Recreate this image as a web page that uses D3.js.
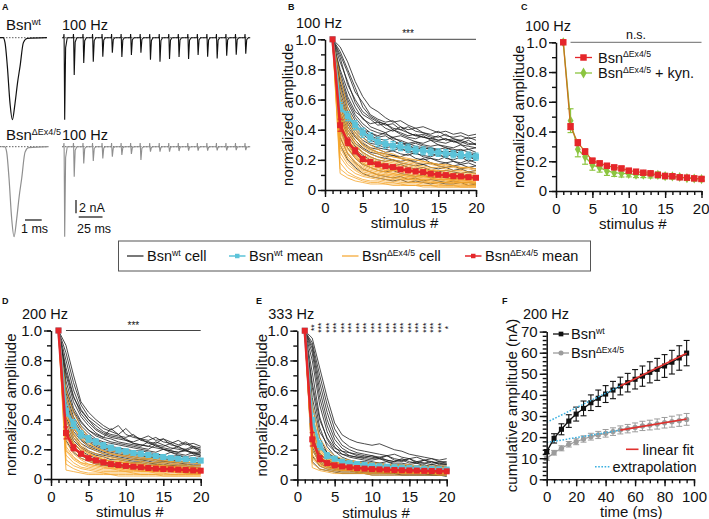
<!DOCTYPE html>
<html>
<head>
<meta charset="utf-8">
<script src="https://cdn.jsdelivr.net/npm/d3@7/dist/d3.min.js"></script>
<style>
  html,body{margin:0;padding:0;background:#fff;}
  svg{display:block;}
</style>
</head>
<body>
<svg id="fig" width="709" height="519" xmlns="http://www.w3.org/2000/svg"></svg>
<script>
// ================= DATA =================
const stimulusNumbers = [1,2,3,4,5,6,7,8,9,10,11,12,13,14,15,16,17,18,19,20];
const stimulusTicks = [0, 5, 10, 15, 20];
const stimulusMinorTicks = [0,1,2,3,4,5,6,7,8,9,10,11,12,13,14,15,16,17,18,19,20];
const amplitudeTicks = [0, 0.2, 0.4, 0.6, 0.8, 1.0];
const amplitudeMinorTicks = [0,0.1,0.2,0.3,0.4,0.5,0.6,0.7,0.8,0.9,1.0];

// ---- Panel A: example EPSCs (single, and 100 Hz trains) ----
const epscTimeMs = [0, 0.18, 0.30, 0.44, 0.60, 0.74, 0.90, 1.05, 1.20, 1.40, 1.62, 2.81];
const epscShape  = [0, 0, 0.06, 0.35, 0.80, 1.00, 0.80, 0.55, 0.35, 0.06, 0.01, 0];
const wtSingleAmpNA = 12.3;
const koSingleAmpNA = 13.5;
const trainStimTimesMs = [0,10,20,30,40,50,60,70,80,90,100,110,120,130,140,150,160,170,180,190];
const wtTrainAmpNA = [12.3,5.6,3.8,3.6,2.85,2.25,2.9,2.6,2.25,3.3,3.6,3.2,2.9,3.2,2.6,2.85,3.1,2.7,2.55,2.4];
const koTrainAmpNA = [13.5,4.5,2.5,2.15,1.75,1.5,1.25,1.1,2.0,0.75,0.75,0.75,0.65,0.6,0.6,0.6,0.55,0.55,0.5,0.5];

// ---- Panel B: 100 Hz, normalized amplitude (cells: stimulus 2..20, x100) ----
const bWtCells = [
 [95,85,72,62,55,52,48,45,46,43,41,42,40,38,39,37,38,36,37],
 [90,78,65,58,50,47,45,46,42,40,41,38,37,39,36,35,36,34,35],
 [88,70,60,52,48,45,44,41,40,42,39,38,36,35,37,34,33,35,33],
 [85,72,58,50,47,43,44,40,38,36,37,35,34,36,33,34,32,30,31],
 [80,66,55,47,44,45,41,39,42,38,36,37,35,33,34,32,33,31,30],
 [78,62,52,48,42,40,38,40,37,35,34,36,33,32,31,33,30,29,28],
 [75,60,50,44,40,38,37,35,36,34,32,31,33,30,29,28,30,27,28],
 [72,58,48,42,38,36,38,34,33,31,32,30,29,30,28,27,26,27,25],
 [70,55,46,40,36,34,33,35,32,30,31,29,28,27,28,26,27,25,24],
 [68,52,44,38,35,33,31,30,32,29,28,27,28,26,25,26,24,23,24],
 [65,50,42,37,33,31,30,29,28,30,27,26,25,27,24,23,24,22,21],
 [62,48,40,35,31,30,28,29,27,26,25,27,24,23,22,24,21,22,20],
 [60,46,38,33,30,28,27,26,28,25,24,23,22,24,21,20,22,19,20],
 [58,44,36,31,28,27,25,26,24,23,25,22,21,20,22,19,18,20,18],
 [55,42,35,30,27,25,24,23,22,24,21,20,21,19,18,19,17,18,16],
 [52,40,33,28,25,24,22,23,21,20,19,21,18,17,18,16,17,15,16],
 [50,38,31,27,24,22,21,20,19,20,18,17,18,16,15,16,14,15,14],
 [48,36,29,25,22,20,19,20,18,17,16,17,15,14,15,13,14,12,13],
 [45,33,27,23,20,18,17,16,17,15,14,15,13,12,13,12,11,12,11],
 [42,30,24,20,18,16,15,14,13,14,12,11,12,10,11,10,9,10,9],
 [40,28,21,17,15,13,12,13,11,10,9,10,8,9,8,7,8,7,7],
 [35,24,18,14,12,10,9,8,9,7,8,6,7,6,5,6,5,5,4],
 [30,20,15,11,9,8,7,6,7,5,6,5,4,5,4,4,5,3,4],
 [55,47,42,40,38,35,36,33,30,31,29,28,27,26,25,26,24,22,23],
 [92,80,68,55,49,46,43,44,40,38,36,35,34,33,34,32,31,33,30]
];
const bKoCells = [
 [75,55,42,35,30,27,25,24,22,21,20,19,18,17,17,16,15,15,14],
 [68,50,40,32,28,25,23,22,21,19,18,18,17,16,15,15,14,14,13],
 [62,45,36,29,26,24,22,20,19,18,17,16,15,15,14,13,13,12,12],
 [58,42,33,27,24,22,20,19,18,17,16,15,14,13,13,12,12,11,11],
 [55,40,31,25,22,20,19,18,17,16,15,14,13,13,12,11,11,10,10],
 [52,38,30,24,21,19,18,17,16,15,14,13,13,12,11,11,10,10,9],
 [50,36,28,22,20,18,17,16,15,14,13,12,12,11,10,10,9,9,8],
 [48,34,27,21,19,17,16,15,14,13,12,12,11,10,10,9,9,8,8],
 [46,33,26,20,18,16,15,14,13,12,12,11,10,10,9,9,8,8,7],
 [44,31,24,19,17,15,14,13,13,12,11,10,10,9,9,8,8,7,7],
 [42,30,23,18,16,15,13,13,12,11,10,10,9,9,8,8,7,7,7],
 [40,28,22,17,15,14,13,12,11,10,10,9,9,8,8,7,7,6,6],
 [38,27,21,16,14,13,12,11,10,10,9,9,8,8,7,7,6,6,6],
 [36,25,19,15,13,12,11,10,10,9,8,8,8,7,7,6,6,6,5],
 [34,24,18,14,12,11,10,10,9,8,8,7,7,7,6,6,5,5,5],
 [32,22,17,13,12,10,10,9,8,8,7,7,6,6,6,5,5,5,4],
 [30,21,16,12,11,10,9,8,8,7,7,6,6,5,5,5,5,4,4],
 [28,19,14,11,10,9,8,8,7,7,6,6,5,5,5,4,4,4,4],
 [25,17,13,10,9,8,7,7,6,6,5,5,5,4,4,4,4,3,3],
 [22,15,11,9,8,7,6,6,5,5,5,4,4,4,3,3,3,3,3],
 [18,12,9,7,6,6,5,5,4,4,4,3,3,3,3,3,2,2,2],
 [14,10,8,6,5,5,4,4,4,3,3,3,3,2,2,2,2,2,2],
 [11,8,6,5,4,4,4,3,3,3,3,2,2,2,2,2,2,2,2],
 [60,48,38,30,27,25,24,22,21,20,20,19,18,17,16,16,15,15,14],
 [45,30,22,18,15,13,12,11,10,9,9,8,8,7,7,6,6,6,5]
];
const bWtMean = [1.0,0.55,0.49,0.43,0.38,0.35,0.32,0.305,0.294,0.288,0.277,0.265,0.26,0.254,0.248,0.243,0.237,0.232,0.228,0.221];
const bWtSem  = [0,0.03,0.03,0.03,0.03,0.03,0.03,0.028,0.028,0.027,0.027,0.026,0.026,0.025,0.025,0.025,0.024,0.024,0.024,0.024];
const bKoMean = [1.0,0.43,0.32,0.26,0.205,0.185,0.17,0.158,0.152,0.137,0.13,0.123,0.119,0.108,0.101,0.099,0.092,0.09,0.085,0.081];
const bKoSem  = [0,0.04,0.025,0.02,0.015,0.015,0.013,0.012,0.012,0.011,0.01,0.01,0.01,0.01,0.01,0.01,0.01,0.01,0.01,0.01];

// ---- Panel C: 100 Hz, KO vs KO + kynurenic acid ----
const cKoMean  = [1.0,0.433,0.325,0.265,0.204,0.186,0.17,0.159,0.152,0.137,0.13,0.123,0.119,0.108,0.101,0.099,0.092,0.09,0.085,0.081];
const cKoSem   = [0,0.02,0.02,0.018,0.015,0.014,0.013,0.012,0.012,0.011,0.011,0.01,0.01,0.01,0.01,0.01,0.01,0.01,0.01,0.01];
const cKynMean = [1.0,0.473,0.28,0.23,0.175,0.157,0.135,0.123,0.119,0.115,0.11,0.11,0.108,0.108,0.1,0.098,0.094,0.086,0.084,0.08];
const cKynSem  = [0,0.08,0.05,0.05,0.035,0.03,0.03,0.025,0.025,0.02,0.02,0.02,0.02,0.02,0.018,0.016,0.015,0.015,0.015,0.015];

// ---- Panel D: 200 Hz ----
const dWtCells = [
 [90,70,52,45,40,36,33,36,30,28,27,29,26,27,25,23,25,22,21],
 [85,65,50,42,38,34,32,30,34,29,27,26,28,25,24,26,23,24,22],
 [80,60,47,40,36,32,30,29,28,30,26,25,24,27,23,22,24,21,20],
 [75,56,44,38,33,30,28,27,26,25,27,24,23,22,24,21,20,22,19],
 [70,52,42,36,31,28,27,25,24,23,22,25,22,21,20,22,19,18,18],
 [66,48,39,33,29,27,25,24,23,22,21,20,23,20,19,18,20,17,17],
 [62,45,36,31,27,25,24,23,22,21,20,19,18,20,18,17,16,18,16],
 [58,42,34,29,26,24,22,21,20,19,19,18,17,16,18,16,15,16,15],
 [55,40,32,28,25,22,21,20,19,18,17,17,16,15,15,16,14,14,14],
 [52,38,30,26,23,21,20,19,18,17,16,15,15,14,14,13,14,13,13],
 [50,36,29,25,22,20,19,18,17,16,15,15,14,13,13,12,12,13,12],
 [47,34,27,23,21,19,18,17,16,15,14,14,13,12,12,12,11,11,11],
 [45,32,26,22,20,18,17,16,15,14,13,13,12,12,11,11,10,10,10],
 [42,30,24,21,19,17,16,15,14,13,13,12,11,11,10,10,10,9,9],
 [40,28,22,19,17,16,15,14,13,12,12,11,10,10,9,9,9,8,8],
 [37,26,21,18,16,15,13,13,12,11,11,10,10,9,9,8,8,8,7],
 [34,24,19,16,14,13,12,11,11,10,10,9,9,8,8,7,7,7,7],
 [30,21,16,14,12,11,10,10,9,9,8,8,7,7,7,6,6,6,6],
 [26,18,14,12,10,9,9,8,8,7,7,6,6,6,5,5,5,5,5],
 [60,46,38,33,30,28,34,30,26,24,23,22,21,20,19,18,19,17,16],
 [72,55,46,40,34,31,29,28,27,24,23,22,25,23,21,20,19,21,18],
 [35,22,16,13,11,10,9,8,8,7,7,6,6,5,5,5,4,4,4]
];
const dKoCells = [
 [60,45,35,28,24,21,19,18,17,16,15,14,14,13,12,12,11,11,10],
 [55,40,30,25,21,19,17,16,15,14,13,13,12,11,11,10,10,9,9],
 [50,35,27,22,19,17,15,14,13,13,12,11,11,10,10,9,9,8,8],
 [45,31,24,19,17,15,14,13,12,11,11,10,10,9,9,8,8,8,7],
 [40,28,21,17,15,13,12,11,11,10,10,9,9,8,8,8,7,7,7],
 [37,25,19,15,13,12,11,10,10,9,9,8,8,8,7,7,7,6,6],
 [34,23,17,14,12,11,10,9,9,8,8,8,7,7,7,6,6,6,6],
 [31,21,16,13,11,10,9,9,8,8,7,7,7,6,6,6,6,5,5],
 [28,19,14,12,10,9,8,8,7,7,7,6,6,6,6,5,5,5,5],
 [25,17,13,10,9,8,8,7,7,6,6,6,6,5,5,5,5,5,4],
 [22,15,11,9,8,7,7,6,6,6,5,5,5,5,5,4,4,4,4],
 [19,13,10,8,7,6,6,6,5,5,5,5,4,4,4,4,4,4,4],
 [16,11,8,7,6,5,5,5,5,4,4,4,4,4,3,3,3,3,3],
 [13,9,7,6,5,4,4,4,4,4,3,3,3,3,3,3,3,3,3],
 [10,7,5,4,4,4,3,3,3,3,3,3,3,2,2,2,2,2,2],
 [6,5,4,3,3,3,3,2,2,2,2,2,2,2,2,2,2,2,2],
 [42,34,28,24,21,19,17,16,16,15,14,14,13,12,12,11,12,11,10],
 [30,24,20,17,15,13,12,12,11,10,10,9,9,9,8,8,8,7,7],
 [20,14,11,10,9,8,7,7,6,6,6,5,5,5,5,5,4,4,4],
 [48,30,22,18,15,14,12,12,11,10,10,9,9,8,8,8,7,7,7]
];
const dWtMean = [1.0,0.46,0.37,0.30,0.27,0.25,0.225,0.21,0.195,0.185,0.175,0.17,0.162,0.155,0.148,0.142,0.137,0.133,0.128,0.124];
const dWtSem  = [0,0.035,0.03,0.025,0.022,0.02,0.02,0.018,0.018,0.017,0.016,0.016,0.015,0.015,0.015,0.014,0.014,0.014,0.014,0.014];
const dKoMean = [1.0,0.31,0.21,0.17,0.14,0.125,0.112,0.10,0.094,0.088,0.083,0.079,0.074,0.07,0.067,0.065,0.063,0.061,0.058,0.056];
const dKoSem  = [0,0.04,0.02,0.015,0.012,0.01,0.01,0.009,0.009,0.008,0.008,0.008,0.008,0.007,0.007,0.007,0.007,0.007,0.007,0.007];

// ---- Panel E: 333 Hz ----
const eWtCells = [
 [95,75,55,38,30,27,25,24,23,24,22,20,19,17,16,15,14,13,14],
 [92,70,50,34,26,22,20,19,18,17,16,17,15,14,15,13,14,12,12],
 [90,65,45,30,23,20,18,17,16,15,16,14,13,14,12,13,11,12,11],
 [88,60,40,27,21,18,16,15,16,14,13,12,14,12,11,11,12,10,10],
 [85,55,36,24,19,16,15,14,13,14,12,11,11,10,11,9,10,9,9],
 [80,50,32,22,17,15,14,13,12,11,12,10,10,9,9,10,8,9,8],
 [72,42,27,19,15,13,12,12,11,11,10,10,9,9,8,8,9,7,8],
 [62,35,22,16,13,12,11,10,10,9,9,9,8,8,8,7,7,7,7],
 [50,28,18,14,12,11,10,9,9,8,8,8,7,7,7,7,6,6,6],
 [42,22,15,12,10,9,9,8,8,7,7,7,7,6,6,6,6,6,5],
 [35,18,13,10,9,8,8,7,7,7,6,6,6,6,5,5,5,5,5],
 [30,16,11,9,8,7,7,7,6,6,6,5,5,5,5,5,5,4,4],
 [25,13,10,8,7,7,6,6,6,5,5,5,5,5,4,4,4,4,4],
 [20,11,8,7,6,6,5,5,5,5,5,4,4,4,4,4,3,3,3],
 [16,9,7,6,5,5,5,4,4,4,4,4,3,3,3,3,3,3,3],
 [12,7,6,5,4,4,4,4,3,3,3,3,3,3,3,3,3,3,2],
 [65,40,28,21,19,18,17,16,15,14,16,13,12,14,11,13,12,11,11],
 [55,32,24,19,17,16,15,15,14,15,13,12,13,11,12,11,10,11,10],
 [38,24,18,15,13,12,11,11,10,9,10,9,8,9,8,8,7,8,7],
 [28,17,13,11,9,8,8,7,7,7,6,6,6,6,5,5,5,5,5],
 [22,12,9,7,6,6,5,5,5,5,4,4,4,4,4,4,4,4,4]
];
const eKoCells = [
 [50,28,20,16,14,13,12,11,11,10,10,10,9,9,9,9,8,8,8],
 [45,24,17,14,12,11,11,10,10,9,9,9,9,8,8,8,8,8,7],
 [40,21,15,12,11,10,10,9,9,9,8,8,8,8,8,7,7,7,7],
 [36,18,13,11,10,9,9,9,8,8,8,8,7,7,7,7,7,7,6],
 [32,16,12,10,9,9,8,8,8,7,7,7,7,7,7,6,6,6,6],
 [29,14,11,9,9,8,8,7,7,7,7,7,6,6,6,6,6,6,6],
 [26,13,10,9,8,8,7,7,7,7,6,6,6,6,6,6,6,5,5],
 [23,12,9,8,8,7,7,7,6,6,6,6,6,6,5,5,5,5,5],
 [20,11,9,8,7,7,6,6,6,6,6,5,5,5,5,5,5,5,5],
 [17,10,8,7,7,6,6,6,6,5,5,5,5,5,5,5,4,4,4],
 [14,9,7,6,6,6,5,5,5,5,5,5,4,4,4,4,4,4,4],
 [11,7,6,5,5,5,5,4,4,4,4,4,4,4,4,4,4,3,3],
 [8,6,5,4,4,4,4,4,3,3,3,3,3,3,3,3,3,3,3],
 [38,22,17,14,13,12,12,11,11,11,10,10,10,10,9,9,9,9,9],
 [33,19,14,12,11,11,10,10,10,9,9,9,9,9,8,8,8,8,8],
 [24,15,12,10,9,9,8,8,8,8,8,7,7,7,7,7,7,7,7],
 [15,10,8,7,6,6,6,5,5,5,5,5,5,5,5,4,4,4,4],
 [42,20,14,11,10,9,9,8,8,8,7,7,7,7,7,6,6,6,6]
];
const eWtMean = [1.0,0.40,0.23,0.16,0.14,0.12,0.11,0.104,0.098,0.093,0.089,0.086,0.083,0.08,0.078,0.075,0.073,0.071,0.069,0.067];
const eWtSem  = [0,0.04,0.03,0.02,0.015,0.012,0.01,0.01,0.01,0.009,0.009,0.008,0.008,0.008,0.008,0.007,0.007,0.007,0.007,0.007];
const eKoMean = [1.0,0.27,0.14,0.11,0.095,0.088,0.082,0.077,0.073,0.07,0.068,0.066,0.064,0.062,0.061,0.06,0.058,0.057,0.056,0.055];
const eKoSem  = [0,0.045,0.02,0.012,0.01,0.008,0.008,0.007,0.007,0.006,0.006,0.006,0.006,0.006,0.006,0.006,0.006,0.006,0.006,0.006];
const eStarLabels = ['','**','***','***','***','***','***','***','***','***','***','***','***','***','***','***','***','***','***','*']; // stimulus 1..20

// ---- Panel F: cumulative amplitude, 200 Hz ----
const fTimeMs = [0,5,10,15,20,25,30,35,40,45,50,55,60,65,70,75,80,85,90,95];
const fTimeTicks = [0, 20, 40, 60, 80, 100];
const fTimeMinorTicks = [0,5,10,15,20,25,30,35,40,45,50,55,60,65,70,75,80,85,90,95,100];
const fCumTicks = [0,10,20,30,40,50,60,70];
const fCumMinorTicks = [0,2,4,6,8,10,12,14,16,18,20,22,24,26,28,30,32,34,36,38,40,42,44,46,48,50,52,54,56,58,60,62,64,66,68,70];
const fWtCum = [13.1,19.4,23.7,27.6,30.9,33.6,36.3,38.4,40.4,42.3,44.2,45.8,47.4,48.9,50.7,52.1,53.7,55.5,57.5,59.8];
const fWtSem = [1.0,2.2,2.6,3.0,3.3,3.5,3.7,3.9,4.0,4.1,4.2,4.4,4.6,4.8,5.0,5.2,5.4,5.6,5.8,6.0];
const fKoCum = [9.9,12.6,14.7,16.6,17.8,19.1,20.2,21.0,21.8,22.6,23.4,24.0,24.6,25.3,25.7,26.2,26.8,27.3,27.8,28.4];
const fKoSem = [1.0,1.1,1.2,1.3,1.4,1.5,1.6,1.7,1.8,1.8,1.9,2.0,2.1,2.2,2.3,2.4,2.5,2.6,2.7,2.8];
const fWtFit = {slope: 0.345, intercept: 27.0, fitFrom: 50, fitTo: 95};
const fKoFit = {slope: 0.118, intercept: 17.4, fitFrom: 50, fitTo: 95};

// ================= DRAWING =================
const FONT = '"Liberation Sans", Arial, Helvetica, sans-serif';
const COL = {
  wtCell: '#1e1e1e', koCell: '#f5a42a', wtMean: '#5cc3d9', koMean: '#e5262a',
  kyn: '#8cc540', koTrace: '#8f8f8f', koGray: '#9c9c9c', fit: '#e0312e', extrap: '#3bb0e0', axis: '#111'
};
const svg = d3.select('#fig');
svg.append('rect').attr('width', 709).attr('height', 519).attr('fill', '#fff');

function rich(g, x, y, segs, size, opts = {}) {
  const t = g.append('text').attr('x', x).attr('y', y)
    .attr('font-family', FONT).attr('font-size', size).attr('fill', opts.fill || '#111')
    .attr('text-anchor', opts.anchor || 'start');
  if (opts.weight) t.attr('font-weight', opts.weight);
  let raised = false;
  segs.forEach(s => {
    const sup = typeof s === 'object';
    const str = sup ? s.sup : s;
    const ts = t.append('tspan').text(str);
    if (sup) { ts.attr('font-size', size * 0.6).attr('dy', -size * 0.36); raised = true; }
    else if (raised) { ts.attr('dy', size * 0.36); raised = false; }
  });
  return t;
}
function plain(g, x, y, str, size, opts = {}) { return rich(g, x, y, [str], size, opts); }

function styleAxis(ax) {
  ax.select('.domain').attr('stroke', COL.axis).attr('stroke-width', 1.5);
  ax.selectAll('.tick line').attr('stroke', COL.axis).attr('stroke-width', 1.4);
  ax.selectAll('text').attr('font-family', FONT).attr('font-size', 15).attr('fill', '#111');
}
function drawAxes(g, x, y, o) {
  const yMin = g.append('g').attr('transform', `translate(${x(x.domain()[0])},0)`)
    .call(d3.axisLeft(y).tickValues(o.yMinor).tickSize(4).tickFormat(''));
  yMin.select('.domain').remove(); styleAxis(yMin);
  const xMin = g.append('g').attr('transform', `translate(0,${y(0)})`)
    .call(d3.axisBottom(x).tickValues(o.xMinor).tickSize(4).tickFormat(''));
  xMin.select('.domain').remove(); styleAxis(xMin);
  const yAx = g.append('g').attr('transform', `translate(${x(x.domain()[0])},0)`)
    .call(d3.axisLeft(y).tickValues(o.yMajor).tickSize(7).tickSizeOuter(0).tickPadding(2).tickFormat(o.yFmt));
  styleAxis(yAx);
  const xAx = g.append('g').attr('transform', `translate(0,${y(0)})`)
    .call(d3.axisBottom(x).tickValues(o.xMajor).tickSize(7).tickSizeOuter(0).tickPadding(5));
  styleAxis(xAx);
  const yMid = (y.range()[0] + y.range()[1]) / 2;
  g.append('text').attr('transform', `translate(${x(x.domain()[0]) - o.yTitleOff},${yMid}) rotate(-90)`)
    .attr('text-anchor', 'middle').attr('dominant-baseline', 'central')
    .attr('font-family', FONT).attr('font-size', 15).attr('fill', '#111').text(o.yTitle);
  const xMid = (x.range()[0] + x.range()[1]) / 2 + (o.xTitleShift || 0);
  g.append('text').attr('x', xMid).attr('y', y(0) + 38).attr('text-anchor', 'middle')
    .attr('font-family', FONT).attr('font-size', 15).attr('fill', '#111').text(o.xTitle);
  return { xAx, yAx };
}
const ampFmt = d => d === 0 ? '0' : d3.format('.1f')(d);

function meanSeries(g, x, y, xs, mean, sem, color, o) {
  const pts = mean.map((m, i) => ({ x: xs[i], m, s: sem[i] }));
  const eb = g.append('g').attr('stroke', o.ebColor || color).attr('stroke-width', o.ebW || 1.2);
  pts.filter(p => p.s > 0).forEach(p => {
    eb.append('line').attr('x1', x(p.x)).attr('x2', x(p.x)).attr('y1', y(p.m - p.s)).attr('y2', y(p.m + p.s));
    if (o.cap) {
      [p.m - p.s, p.m + p.s].forEach(v => eb.append('line')
        .attr('x1', x(p.x) - o.cap).attr('x2', x(p.x) + o.cap).attr('y1', y(v)).attr('y2', y(v)));
    }
  });
  g.append('path').attr('d', d3.line().x(p => x(p.x)).y(p => y(p.m))(pts))
    .attr('fill', 'none').attr('stroke', o.lineColor || color).attr('stroke-width', o.lw);
  g.append('g').selectAll('path').data(pts).join('path')
    .attr('transform', p => `translate(${x(p.x)},${y(p.m)})`)
    .attr('d', d3.symbol(o.symbol, o.size)).attr('fill', color);
}

function cellPanel(c) {
  const x = d3.scaleLinear().domain([0, 20]).range(c.xr);
  const y = d3.scaleLinear().domain([0, 1]).range(c.yr);
  const g = svg.append('g');
  const line = d3.line().x((d, i) => x(stimulusNumbers[i])).y(d => y(d));
  const cellPath = d => line([1].concat(d.map(v => v / 100)));
  g.append('g').selectAll('path').data(c.wtCells).join('path').attr('d', cellPath)
    .attr('fill', 'none').attr('stroke', COL.wtCell).attr('stroke-width', 0.8).attr('stroke-linejoin', 'round');
  g.append('g').selectAll('path').data(c.koCells).join('path').attr('d', cellPath)
    .attr('fill', 'none').attr('stroke', COL.koCell).attr('stroke-width', 0.8).attr('stroke-linejoin', 'round');
  meanSeries(g, x, y, stimulusNumbers, c.wtMean, c.wtSem, COL.wtMean, { lw: 2.6, symbol: d3.symbolSquare, size: 36, cap: 2.5 });
  meanSeries(g, x, y, stimulusNumbers, c.koMean, c.koSem, COL.koMean, { lw: 2.6, symbol: d3.symbolSquare, size: 36, cap: 2.5 });
  drawAxes(g, x, y, { yMinor: amplitudeMinorTicks, xMinor: stimulusMinorTicks, yMajor: amplitudeTicks, xMajor: stimulusTicks,
    yFmt: ampFmt, yTitle: 'normalized amplitude', yTitleOff: c.yTitleOff, xTitle: 'stimulus #', xTitleShift: 4 });
  plain(g, c.letter[0], c.letter[1], c.letterText, 9, { weight: 'bold' });
  plain(g, x(0) - 29, y(1) - 11.5, c.title, 14.5);
  return { g, x, y };
}

// ---------- Panel A ----------
(function panelA() {
  const g = svg.append('g');
  plain(g, 2, 9.5, 'A', 9, { weight: 'bold' });
  const pxPerNA = 6.67;
  const rows = [
    { base: 37.7, color: '#111', single: wtSingleAmpNA, train: wtTrainAmpNA, labelY: 30, sup: 'wt', shift: 0 },
    { base: 146.7, color: COL.koTrace, single: koSingleAmpNA, train: koTrainAmpNA, labelY: 140, sup: 'ΔEx4/5', shift: 0.1 }
  ];
  const xSingle = d3.scaleLinear().domain([0, 1]).range([0, 16.7]);
  const xTrain = d3.scaleLinear().domain([0, 10]).range([64.4, 73.93]);
  rows.forEach(r => {
    const y = d3.scaleLinear().domain([0, -1]).range([r.base, r.base + pxPerNA]);
    rich(g, 6, r.labelY, ['Bsn', { sup: r.sup }], 15);
    plain(g, 62, r.labelY, '100 Hz', 14.5);
    g.append('line').attr('x1', 0).attr('x2', xSingle(2.81)).attr('y1', r.base).attr('y2', r.base)
      .attr('stroke', '#333').attr('stroke-width', 0.8).attr('stroke-dasharray', '1.5,1.5');
    g.append('line').attr('x1', xTrain(-2.5)).attr('x2', xTrain(195)).attr('y1', r.base).attr('y2', r.base)
      .attr('stroke', '#333').attr('stroke-width', 0.8).attr('stroke-dasharray', '1.5,1.5');
    const single = epscTimeMs.map((t, i) => [t + r.shift, -r.single * epscShape[i]]);
    g.append('path').attr('d', d3.line().x(d => xSingle(d[0])).y(d => y(d[1])).curve(d3.curveMonotoneX)(single))
      .attr('fill', 'none').attr('stroke', r.color).attr('stroke-width', 1.2);
    const pts = [[-2, 0]];
    trainStimTimesMs.forEach((t, i) => {
      const a = r.train[i];
      pts.push([t - 0.8, 0], [t - 0.5, 0.55], [t - 0.3, 0], [t + 0.3, -a], [t + 1.3, -0.12 * a], [t + 3, 0]);
    });
    pts.push([195, 0]);
    g.append('path').attr('d', d3.line().x(d => xTrain(d[0])).y(d => y(d[1]))(pts))
      .attr('fill', 'none').attr('stroke', r.color).attr('stroke-width', 1.1);
  });
  const yBar = d3.scaleLinear().domain([0, 2]).range([213.3, 200]);
  g.append('line').attr('x1', 76).attr('x2', 76).attr('y1', yBar(0)).attr('y2', yBar(2)).attr('stroke', '#111').attr('stroke-width', 1.2);
  plain(g, 79, 212, '2 nA', 12.5);
  g.append('line').attr('x1', xTrain(15)).attr('x2', xTrain(40)).attr('y1', 217).attr('y2', 217).attr('stroke', '#111').attr('stroke-width', 1.2);
  plain(g, 77, 233, '25 ms', 12.5);
  g.append('line').attr('x1', 25).attr('x2', 25 + xSingle(1)).attr('y1', 220).attr('y2', 220).attr('stroke', '#111').attr('stroke-width', 1.2);
  plain(g, 21, 233, '1 ms', 12.5);
})();

// ---------- Panel B ----------
(function () {
  const p = cellPanel({ xr: [325, 476], yr: [190, 39.3], wtCells: bWtCells, koCells: bKoCells,
    wtMean: bWtMean, wtSem: bWtSem, koMean: bKoMean, koSem: bKoSem, yTitleOff: 38,
    letter: [288, 9.5], letterText: 'B', title: '100 Hz' });
  p.g.append('line').attr('x1', p.x(2)).attr('x2', p.x(20)).attr('y1', p.y(1)).attr('y2', p.y(1)).attr('stroke', '#444').attr('stroke-width', 1);
  plain(p.g, p.x(11), p.y(1) - 2, '***', 10, { anchor: 'middle' });
})();

// ---------- Panel C ----------
(function () {
  const x = d3.scaleLinear().domain([0, 20]).range([556, 701.5]);
  const y = d3.scaleLinear().domain([0, 1]).range([191, 42.3]);
  const g = svg.append('g');
  meanSeries(g, x, y, stimulusNumbers, cKynMean, cKynSem, COL.kyn, { lw: 1.3, symbol: d3.symbolDiamond, size: 30, cap: 3 });
  meanSeries(g, x, y, stimulusNumbers, cKoMean, cKoSem, COL.koMean, { lw: 1.3, symbol: d3.symbolSquare, size: 42, cap: 3, lineColor: '#c8741e' });
  const ax = drawAxes(g, x, y, { yMinor: amplitudeMinorTicks, xMinor: stimulusMinorTicks, yMajor: amplitudeTicks, xMajor: stimulusTicks,
    yFmt: ampFmt, yTitle: 'normalized amplitude', yTitleOff: 38, xTitle: 'stimulus #', xTitleShift: 4 });
  ax.xAx.selectAll('.tick text').filter(d => d === 20).attr('text-anchor', 'end').attr('dx', 7.5);
  plain(g, 521, 9.5, 'C', 9, { weight: 'bold' });
  plain(g, x(0) - 31, y(1) - 11.5, '100 Hz', 14.5);
  g.append('line').attr('x1', x(2)).attr('x2', x(20)).attr('y1', y(1)).attr('y2', y(1)).attr('stroke', '#888').attr('stroke-width', 1.2);
  plain(g, x(11), y(1) - 3, 'n.s.', 12.5, { anchor: 'middle' });
  const items = [
    { yy: 57.5, color: COL.koMean, sym: d3.symbolSquare, size: 42, segs: ['Bsn', { sup: 'ΔEx4/5' }] },
    { yy: 73, color: COL.kyn, sym: d3.symbolDiamond, size: 34, segs: ['Bsn', { sup: 'ΔEx4/5' }, ' + kyn.'] }
  ];
  items.forEach(it => {
    g.append('line').attr('x1', 575).attr('x2', 592).attr('y1', it.yy).attr('y2', it.yy).attr('stroke', it.color).attr('stroke-width', 1.3);
    g.append('path').attr('transform', `translate(583.5,${it.yy})`).attr('d', d3.symbol(it.sym, it.size)).attr('fill', it.color);
    rich(g, 598, it.yy + 5.2, it.segs, 14.5);
  });
})();

// ---------- Central legend ----------
(function () {
  const g = svg.append('g');
  g.append('rect').attr('x', 118.5).attr('y', 241).attr('width', 472).attr('height', 30)
    .attr('fill', 'none').attr('stroke', '#555').attr('stroke-width', 1);
  const yy = 256;
  const items = [
    { x: 127, color: COL.wtCell, marker: false, w: 1.2, segs: ['Bsn', { sup: 'wt' }, ' cell'] },
    { x: 229, color: COL.wtMean, marker: true, w: 1.5, segs: ['Bsn', { sup: 'wt' }, ' mean'] },
    { x: 342, color: COL.koCell, marker: false, w: 1.2, segs: ['Bsn', { sup: 'ΔEx4/5' }, ' cell'] },
    { x: 465, color: COL.koMean, marker: true, w: 1.5, segs: ['Bsn', { sup: 'ΔEx4/5' }, ' mean'] }
  ];
  items.forEach(it => {
    g.append('line').attr('x1', it.x).attr('x2', it.x + 16.5).attr('y1', yy).attr('y2', yy).attr('stroke', it.color).attr('stroke-width', it.w);
    if (it.marker) g.append('path').attr('transform', `translate(${it.x + 8.25},${yy})`).attr('d', d3.symbol(d3.symbolSquare, 20)).attr('fill', it.color);
    rich(g, it.x + 20, yy + 5.3, it.segs, 14.5);
  });
})();

// ---------- Panel D ----------
(function () {
  const p = cellPanel({ xr: [51, 200.7], yr: [479, 330.5], wtCells: dWtCells, koCells: dKoCells,
    wtMean: dWtMean, wtSem: dWtSem, koMean: dKoMean, koSem: dKoSem, yTitleOff: 41,
    letter: [2, 304], letterText: 'D', title: '200 Hz' });
  p.g.append('line').attr('x1', p.x(2)).attr('x2', p.x(20)).attr('y1', p.y(1)).attr('y2', p.y(1)).attr('stroke', '#444').attr('stroke-width', 1);
  plain(p.g, p.x(11), p.y(1) - 2, '***', 10, { anchor: 'middle' });
})();

// ---------- Panel E ----------
(function () {
  const p = cellPanel({ xr: [297.3, 446.7], yr: [479.5, 330.7], wtCells: eWtCells, koCells: eKoCells,
    wtMean: eWtMean, wtSem: eWtSem, koMean: eKoMean, koSem: eKoSem, yTitleOff: 36,
    letter: [256, 304], letterText: 'E', title: '333 Hz' });
  p.g.append('g').selectAll('text').data(eStarLabels.map((s, i) => ({ s, n: stimulusNumbers[i] })).filter(d => d.s))
    .join('text')
    .attr('transform', d => `translate(${p.x(d.n) + 4.6},${p.y(1) - 3}) rotate(-90)`)
    .attr('text-anchor', 'middle').attr('font-family', FONT).attr('font-size', 8.5).attr('fill', '#111')
    .text(d => d.s);
})();

// ---------- Panel F ----------
(function () {
  const x = d3.scaleLinear().domain([0, 100]).range([546.7, 694]);
  const y = d3.scaleLinear().domain([0, 70]).range([479.3, 331.6]);
  const g = svg.append('g');
  meanSeries(g, x, y, fTimeMs, fKoCum, fKoSem, COL.koGray, { lw: 1.3, symbol: d3.symbolCircle, size: 22, cap: 3, ebW: 1 });
  meanSeries(g, x, y, fTimeMs, fWtCum, fWtSem, '#111', { lw: 1.3, symbol: d3.symbolSquare, size: 26, cap: 3, ebW: 1.1 });
  [fWtFit, fKoFit].forEach(f => {
    const fitLine = d3.line().x(t => x(t)).y(t => y(f.intercept + f.slope * t));
    g.append('path').attr('d', fitLine([0, f.fitFrom])).attr('stroke', COL.extrap).attr('stroke-width', 1.5)
      .attr('stroke-dasharray', '1.6,1.6').attr('fill', 'none');
    g.append('path').attr('d', fitLine([f.fitFrom, f.fitTo])).attr('stroke', COL.fit).attr('stroke-width', 1.6).attr('fill', 'none');
  });
  drawAxes(g, x, y, { yMinor: fCumMinorTicks, xMinor: fTimeMinorTicks, yMajor: fCumTicks, xMajor: fTimeTicks,
    yFmt: d3.format('d'), yTitle: 'cumulative amplitude (nA)', yTitleOff: 35, xTitle: 'time (ms)', xTitleShift: 11 });
  plain(g, 502, 304, 'F', 9, { weight: 'bold' });
  plain(g, 523, 319, '200 Hz', 14.5);
  const items = [
    { yy: 334, color: '#111', sym: d3.symbolSquare, size: 22, segs: ['Bsn', { sup: 'wt' }] },
    { yy: 353, color: COL.koGray, sym: d3.symbolCircle, size: 20, segs: ['Bsn', { sup: 'ΔEx4/5' }] }
  ];
  items.forEach(it => {
    g.append('line').attr('x1', 553).attr('x2', 569).attr('y1', it.yy).attr('y2', it.yy).attr('stroke', it.color).attr('stroke-width', 1.3);
    g.append('path').attr('transform', `translate(561,${it.yy})`).attr('d', d3.symbol(it.sym, it.size)).attr('fill', it.color);
    rich(g, 571, it.yy + 5.3, it.segs, 14.5);
  });
  g.append('line').attr('x1', 626).attr('x2', 638.5).attr('y1', 449.3).attr('y2', 449.3).attr('stroke', COL.fit).attr('stroke-width', 1.6);
  plain(g, 642.5, 454.5, 'linear fit', 14.7);
  g.append('line').attr('x1', 595).attr('x2', 610).attr('y1', 466.7).attr('y2', 466.7).attr('stroke', COL.extrap).attr('stroke-width', 1.5).attr('stroke-dasharray', '1.6,1.6');
  plain(g, 612.5, 472, 'extrapolation', 14.7);
})();
</script>
</body>
</html>
